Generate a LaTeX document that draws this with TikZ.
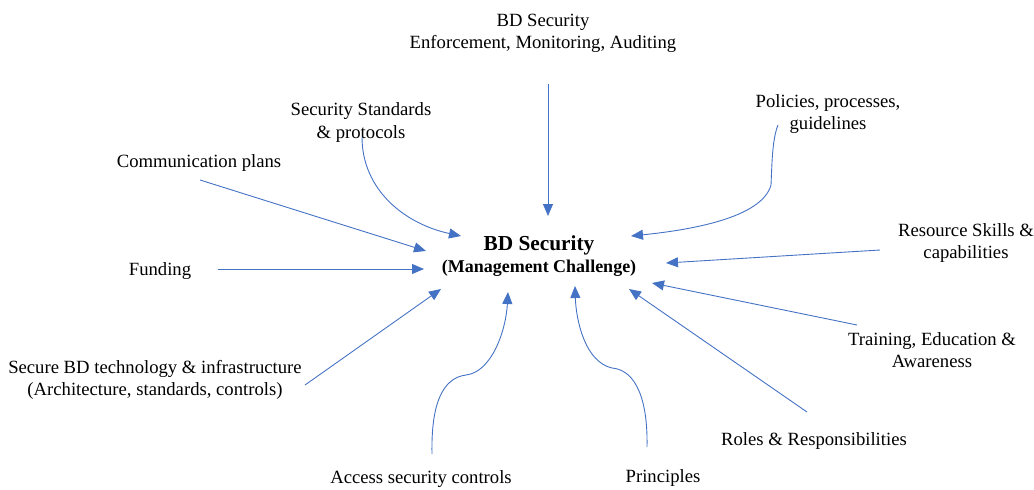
\documentclass[tikz,border=0pt]{standalone}
\usepackage{fontspec}
\setmainfont{Liberation Serif}
\usetikzlibrary{arrows.meta}
\definecolor{arrowblue}{HTML}{4472C4}
\tikzset{
  lbl/.style={align=center, inner sep=0pt, yshift=-2pt, font=\fontsize{18.67}{22.5}\selectfont},
  conn/.style={draw=arrowblue, line width=0.9pt, -{Triangle[length=12pt,width=10pt]}}
}
\begin{document}
\begin{tikzpicture}[x=1pt,y=-1pt]
\useasboundingbox (0,0) rectangle (1034,490);
% labels
\node[lbl] (top) at (543,31.5) {BD Security\\Enforcement, Monitoring, Auditing};
\node[lbl] (std) at (361,120.5) {Security\ Standards\\\& protocols};
\node[lbl] (pol) at (828,112) {Policies, processes,\\guidelines};
\node[lbl] (com) at (199,161) {Communication plans};
\node[lbl] (fun) at (160,269) {Funding};
\node[align=center, inner sep=0pt] (ctr) at (539,256)
  {\fontsize{21.33}{24}\selectfont\bfseries BD Security\\[4pt]\fontsize{18}{20}\selectfont\bfseries (Management Challenge)};
\node[lbl] (res) at (966,241) {Resource Skills \&\\capabilities};
\node[lbl] (tra) at (932,348) {Training, Education \&\\Awareness};
\node[lbl] (rol) at (814,439) {Roles \& Responsibilities};
\node[lbl] (pri) at (663,476) {Principles};
\node[lbl] (acc) at (421,477.5) {Access\ security controls};
\node[lbl] (sec) at (155,378) {Secure BD technology \& infrastructure\\(Architecture, standards, controls)};
% connector ends
\coordinate (topS) at (548,84);   \coordinate (topE) at (548,216);
\coordinate (stdS) at (362,137);  \coordinate (stdE) at (461,236);
\coordinate (polS) at (778,125);  \coordinate (polM) at (771,185); \coordinate (polE) at (631,236);
\coordinate (comS) at (200,180);  \coordinate (comE) at (426,251);
\coordinate (funS) at (218,269);  \coordinate (funE) at (424,269);
\coordinate (resS) at (880,250);  \coordinate (resE) at (666,263);
\coordinate (traS) at (857,325);  \coordinate (traE) at (652,283);
\coordinate (rolS) at (807,412);  \coordinate (rolE) at (629,289);
\coordinate (priS) at (647,447);  \coordinate (priM) at (612,368); \coordinate (priE) at (575,286);
\coordinate (accS) at (432,454);  \coordinate (accM) at (466,375); \coordinate (accE) at (508,292);
\coordinate (secS) at (305,385);  \coordinate (secE) at (441,289);
% connectors
\draw[conn] (topS) -- (topE);
\draw[conn] (stdS) .. controls (362,190) and (405,224) .. (stdE);
\draw[conn] (polS) .. controls (772,140) and (772,165) .. (polM) .. controls (762,218) and (690,230) .. (polE);
\draw[conn] (comS) -- (comE);
\draw[conn] (funS) -- (funE);
\draw[conn] (resS) -- (resE);
\draw[conn] (traS) -- (traE);
\draw[conn] (rolS) -- (rolE);
\draw[conn] (priS) .. controls (648,400) and (636,370) .. (priM) .. controls (585,362) and (576,320) .. (priE);
\draw[conn] (accS) .. controls (431,405) and (442,378) .. (accM) .. controls (492,372) and (506,330) .. (accE);
\draw[conn] (secS) -- (secE);
\end{tikzpicture}
\end{document}
